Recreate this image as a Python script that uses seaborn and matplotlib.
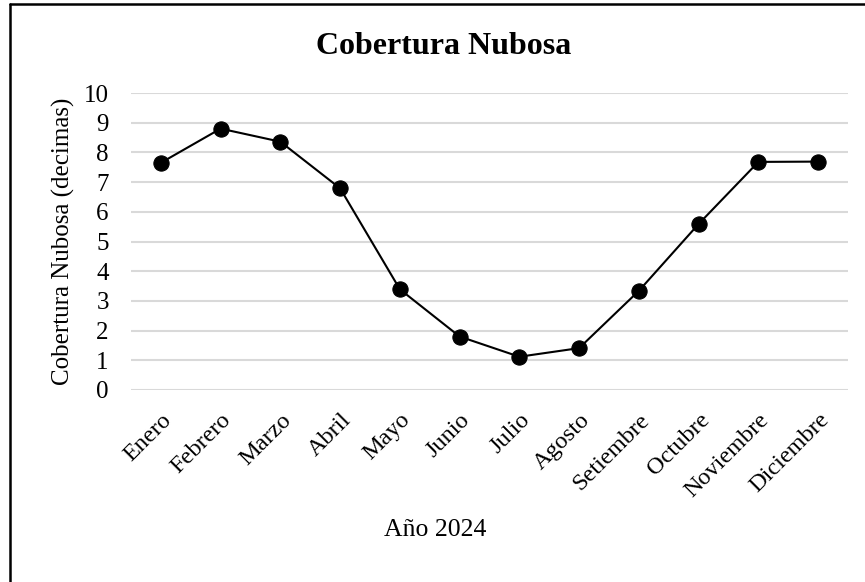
import matplotlib
matplotlib.use("Agg")
import matplotlib.pyplot as plt
import seaborn as sns
import pandas as pd
from matplotlib.lines import Line2D

months = ["Enero", "Febrero", "Marzo", "Abril", "Mayo", "Junio", "Julio",
          "Agosto", "Setiembre", "Octubre", "Noviembre", "Diciembre"]
cobertura = [7.65, 8.80, 8.36, 6.79, 3.39, 1.80, 1.12, 1.41, 3.34, 5.59, 7.68, 7.69]
yticks = list(range(0, 11))

sns.set_theme(style="white")
plt.rcParams['font.family'] = ['Liberation Serif', 'DejaVu Serif']
plt.rcParams['text.color'] = 'black'
plt.rcParams['axes.labelcolor'] = 'black'
plt.rcParams['xtick.color'] = 'black'
plt.rcParams['ytick.color'] = 'black'

df = pd.DataFrame({"Mes": months, "Cobertura": cobertura})

fig = plt.figure(figsize=(8.65, 5.82), dpi=100)
ax = fig.add_axes([131/865, 1 - 390/582, 717/865, 297/582])

sns.lineplot(data=df, x="Mes", y="Cobertura", sort=False, ax=ax,
             color="black", linewidth=1.5, marker="o", markersize=11,
             markeredgecolor="black", markerfacecolor="black")

ax.set_xlim(-0.5, len(months) - 0.5)
ax.set_ylim(0, 10)
ax.set_yticks(yticks)
ax.set_yticklabels([str(t) for t in yticks], fontsize=18)
ax.grid(axis="y", color="#d9d9d9", linewidth=1.5)
ax.grid(axis="x", visible=False)
ax.set_axisbelow(True)
for s in ax.spines.values():
    s.set_visible(False)
ax.tick_params(axis="y", length=0, pad=16)
ax.tick_params(axis="x", length=0, pad=14)
plt.setp(ax.get_xticklabels(), rotation=45, ha="right", rotation_mode="anchor",
         fontsize=17.5)
ax.set_xlabel("")
ax.set_ylabel("Cobertura Nubosa (decimas)", fontsize=18, labelpad=6)

fig.text(444/865, 1 - 54/582, "Cobertura Nubosa", ha="center", va="baseline",
         fontsize=23, fontweight="bold")
fig.text(435/865, 1 - 536/582, "Año 2024", ha="center", va="baseline",
         fontsize=18.5)

fig.add_artist(Line2D([10/865, 10/865], [0, 1 - 4/582], transform=fig.transFigure,
                      color="black", linewidth=1.8))
fig.add_artist(Line2D([10/865, 1], [1 - 4/582, 1 - 4/582], transform=fig.transFigure,
                      color="black", linewidth=1.8))

fig.savefig("out.png", dpi=100, facecolor="white")
